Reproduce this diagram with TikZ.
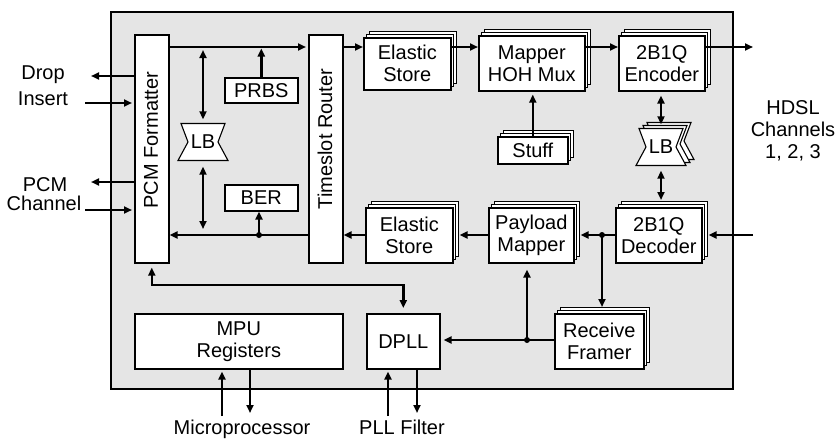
\documentclass[tikz,border=0pt]{standalone}
\usepackage{fontspec}
\setmainfont{Liberation Sans}
\usetikzlibrary{arrows.meta,shadows,calc}
\begin{document}
\begin{tikzpicture}[x=1pt,y=-1pt,
  font=\fontsize{20}{22}\selectfont,
  box/.style={draw, line width=1.6pt, fill=white, align=center, inner sep=0pt, anchor=north west},
  stackbox/.style={box,
    copy shadow={shadow xshift=6pt, shadow yshift=6pt, line width=0.8pt},
    copy shadow={shadow xshift=3pt, shadow yshift=3pt, line width=0.8pt}},
  lbl/.style={align=center, inner sep=0pt},
  lbshape/.style={draw, line width=1.1pt, fill=white, line join=miter},
  arr/.style={line width=2.4pt, -{Triangle[length=8pt,width=7pt]}},
  darr/.style={line width=2.4pt, {Triangle[length=8pt,width=7pt]}-{Triangle[length=8pt,width=7pt]}},
  jdot/.style={circle, fill, inner sep=0pt, minimum size=6pt}
]
\useasboundingbox (0,0) rectangle (836,439);

% chip outline
\node[draw, line width=1.6pt, fill=black!10, anchor=north west, minimum width=622pt, minimum height=377pt, inner sep=0pt] (chip) at (110,11) {};

% blocks
\node[box, minimum width=34pt, minimum height=228pt] (pcm) at (134,34) {};
\node[lbl, rotate=90] (pcmt) at (151,140) {PCM Formatter};
\node[box, minimum width=34pt, minimum height=228pt] (tsr) at (308,34) {};
\node[lbl, rotate=90] (tsrt) at (325,139) {Timeslot Router};
\node[box, minimum width=73pt, minimum height=25pt] (prbs) at (224,77) {PRBS};
\node[box, minimum width=73pt, minimum height=26pt] (ber) at (224,184) {BER};
\node[stackbox, minimum width=87pt, minimum height=52pt] (es1) at (363,37) {Elastic\\Store};
\node[stackbox, minimum width=106pt, minimum height=55pt] (map) at (478,35) {Mapper\\HOH Mux};
\node[stackbox, minimum width=86pt, minimum height=55pt] (enc) at (618,35) {2B1Q\\Encoder};
\node[stackbox, minimum width=70pt, minimum height=27pt] (stuff) at (497,136) {Stuff};
\node[stackbox, minimum width=87pt, minimum height=55pt] (es2) at (365,207) {Elastic\\Store};
\node[stackbox, minimum width=85pt, minimum height=55pt] (pay) at (488,207) {Payload\\Mapper};
\node[stackbox, minimum width=86pt, minimum height=55pt] (dec) at (615,207) {2B1Q\\Decoder};
\node[stackbox, minimum width=89pt, minimum height=55pt] (rf) at (554,313) {Receive\\Framer};
\node[box, minimum width=73pt, minimum height=55pt] (dpll) at (366,313) {DPLL};
\node[box, minimum width=208pt, minimum height=55pt] (mpu) at (134,313) {MPU\\Registers};

% line buffers
\draw[lbshape, shift={(203,142)}] (-22,-18.5) -- (22,-18.5) -- (15,0) -- (25,18.5) -- (-25,18.5) -- (-15,0) -- cycle;
\node[lbl, minimum width=50pt, minimum height=37pt] (lb1) at (203,142) {LB};
\draw[lbshape, shift={(669,141)}] (-22,-18.5) -- (22,-18.5) -- (15,0) -- (25,18.5) -- (-25,18.5) -- (-15,0) -- cycle;
\draw[lbshape, shift={(665,144)}] (-22,-18.5) -- (22,-18.5) -- (15,0) -- (25,18.5) -- (-25,18.5) -- (-15,0) -- cycle;
\draw[lbshape, shift={(661,147)}] (-22,-18.5) -- (22,-18.5) -- (15,0) -- (25,18.5) -- (-25,18.5) -- (-15,0) -- cycle;
\node[lbl, minimum width=50pt, minimum height=37pt] (lb2) at (661,147) {LB};

% outside labels
\node[lbl, anchor=base] (drop) at (43,79) {Drop};
\node[lbl, anchor=base] (ins) at (43,105) {Insert};
\node[lbl, anchor=base] (pcmc) at (45,191) {PCM};
\node[lbl, anchor=base] (chan) at (44,210) {Channel};
\node[lbl] (hdsl) at (793,131) {HDSL\\Channels\\1, 2, 3};
\node[lbl, anchor=base] (micro) at (242,434) {Microprocessor};
\node[lbl, anchor=base] (pllf) at (402,434) {PLL Filter};

% coordinates
\coordinate (ytop) at (0,47);
\coordinate (ybot) at (0,235);
\coordinate (ymid) at (0,285);
\coordinate (yfr) at (0,340);
\coordinate (dropend) at (91,76);
\coordinate (insstart) at (85,103);
\coordinate (pcmend) at (91,182);
\coordinate (chstart) at (85,210);
\coordinate (hout) at (753,47);
\coordinate (hin) at (753,235);
\coordinate (j1) at (602,235);
\coordinate (j2) at (259,235);
\coordinate (j3) at (527,340);
\coordinate (mpuin) at (222,416);
\coordinate (mpuout) at (250,413);
\coordinate (pllin) at (388,416);
\coordinate (pllout) at (417,413);

% left side I/O
\draw[arr] (pcm.west |- dropend) -- (dropend);
\draw[arr, shorten >=2pt] (insstart) -- (insstart -| pcm.west);
\draw[arr] (pcm.west |- pcmend) -- (pcmend);
\draw[arr, shorten >=2pt] (chstart) -- (chstart -| pcm.west);

% transmit path
\draw[arr, shorten >=2pt] (pcm.east |- ytop) -- (tsr.west |- ytop);
\draw[arr] (tsr.east |- ytop) -- (es1.west |- ytop);
\draw[arr] (es1.east |- ytop) -- (map.west |- ytop);
\draw[arr] (map.east |- ytop) -- (enc.west |- ytop);
\draw[arr] (enc.east |- ytop) -- (hout);
\draw[arr, shorten >=1.5pt] (prbs.north) -- (prbs.north |- ytop);
\draw[darr, shorten <=3pt, shorten >=4pt] (lb1.north |- ytop) -- (lb1.north);
\draw[darr, shorten <=6pt, shorten >=6pt] (lb1.south) -- (lb1.south |- ybot);
\draw[arr, shorten >=3pt] (stuff.north) -- (stuff.north |- map.south);
\draw[darr, shorten <=4pt, shorten >=4pt] (lb2.north |- enc.south) -- (lb2.north);
\draw[darr, shorten <=5pt, shorten >=7pt] (lb2.south) -- (lb2.south |- dec.north);

% receive path
\draw[arr, shorten >=6pt] (hin) -- (hin -| dec.east);
\draw[arr, shorten >=6pt] (dec.west |- ybot) -- (pay.east |- ybot);
\draw[arr, shorten >=6pt] (pay.west |- ybot) -- (es2.east |- ybot);
\draw[arr] (es2.west |- ybot) -- (tsr.east |- ybot);
\draw[arr] (tsr.west |- ybot) -- (pcm.east |- ybot);
\draw[arr] (j2) -- (j2 |- ber.south);
\draw[arr, shorten >=6pt] (j1) -- (j1 |- rf.north);
\draw[arr, shorten >=6pt] (j3) -- (j3 |- pay.south);
\draw[arr, shorten >=3pt] (rf.west |- yfr) -- (dpll.east |- yfr);
\draw[darr, shorten <=4pt, shorten >=5pt] (pcm.south) -- (pcm.south |- ymid) -| (dpll.north);

% MPU and PLL I/O
\draw[arr, shorten >=2pt] (mpuin) -- (mpuin |- mpu.south);
\draw[arr] (mpuout |- mpu.south) -- (mpuout);
\draw[arr, shorten >=2pt] (pllin) -- (pllin |- dpll.south);
\draw[arr] (pllout |- dpll.south) -- (pllout);

% junction dots
\node[jdot] (d1) at (j1) {};
\node[jdot] (d2) at (j2) {};
\node[jdot] (d3) at (j3) {};
\end{tikzpicture}
\end{document}
